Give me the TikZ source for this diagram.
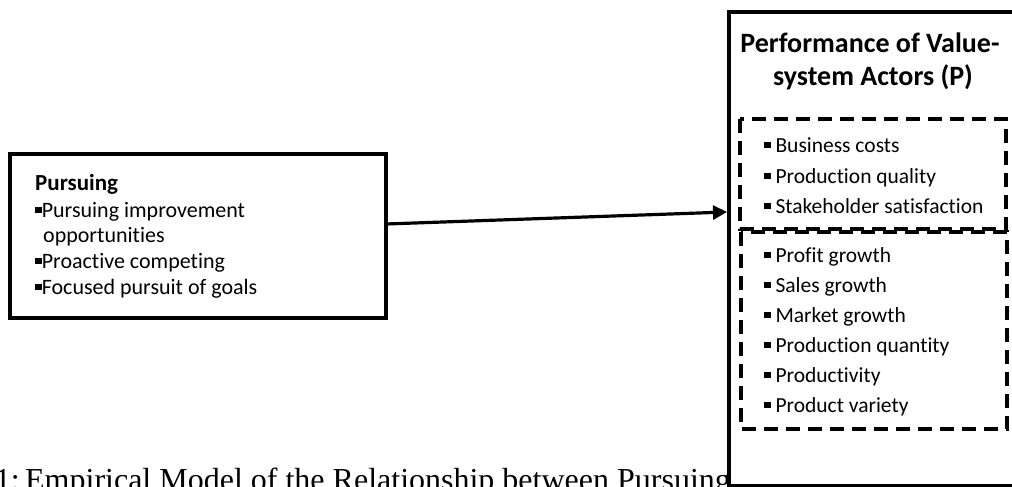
\documentclass[tikz,border=0pt]{standalone}
\usepackage{fontspec}
\setmainfont{Carlito}[Ligatures={NoCommon}]
\newfontfamily\capfont{Liberation Serif}
\usetikzlibrary{arrows.meta}
\newcommand{\sqb}{\rule[0.17em]{0.3em}{0.3em}}
\tikzset{
  solidbox/.style={draw=black, line width=3.2pt, fill=white},
  dashbox/.style={draw=black, line width=3.2pt, dash pattern=on 14pt off 8pt},
  itemtxt/.style={anchor=base west, inner sep=0pt, font=\fontsize{21.5}{25}\selectfont},
  litemtxt/.style={anchor=base west, inner sep=0pt, font=\fontsize{22}{25}\selectfont},
  headtxt/.style={anchor=base west, inner sep=0pt, font=\fontsize{23}{26}\selectfont\bfseries},
  titletxt/.style={anchor=base, inner sep=0pt, font=\fontsize{28}{30}\selectfont\bfseries},
  captxt/.style={anchor=base west, inner sep=0pt, font=\fontsize{32}{36}\selectfont\capfont},
  conn/.style={line width=3.2pt, -{Triangle[length=14pt,width=14pt]}}
}
\begin{document}
\begin{tikzpicture}[x=1pt,y=-1pt]
\useasboundingbox (0,0) rectangle (1012,487);
\clip (0,0) rectangle (1012,487);
% caption (partly hidden behind the right box and the bottom edge)
\node[captxt] (cap) at (25,490) {\llap{1:\,}Empirical Model of the Relationship between Pursuing};
% left box
\draw[solidbox] (10,154) rectangle (386,318);
\coordinate (lout) at (386,224);
\node[headtxt] (lh) at (35,190) {Pursuing};
\node[litemtxt] (l1) at (35,217) {\sqb Pursuing improvement};
\node[litemtxt] (l1b) at (43,242) {opportunities};
\node[litemtxt] (l2) at (35,268) {\sqb Proactive competing};
\node[litemtxt] (l3) at (35,294) {\sqb Focused pursuit of goals};
% right box
\draw[solidbox] (729,12) rectangle (1030,486);
\coordinate (rin) at (727,212);
\node[titletxt] (t1) at (870,53) {Performance of Value-};
\node[titletxt] (t2) at (873,85) {system Actors (P)};
\draw[dashbox] (740,119) rectangle (1006,229);
\draw[dashbox] (741,232) rectangle (1007,429);
\node[itemtxt] (r1) at (764,152) {\sqb\ Business costs};
\node[itemtxt] (r2) at (764,183) {\sqb\ Production quality};
\node[itemtxt] (r3) at (764,213) {\sqb\ Stakeholder satisfaction};
\node[itemtxt] (r4) at (764,262) {\sqb\ Profit growth};
\node[itemtxt] (r5) at (764,292) {\sqb\ Sales growth};
\node[itemtxt] (r6) at (764,322) {\sqb\ Market growth};
\node[itemtxt] (r7) at (764,352) {\sqb\ Production quantity};
\node[itemtxt] (r8) at (764,382) {\sqb\ Productivity};
\node[itemtxt] (r9) at (764,412) {\sqb\ Product variety};
% connector
\draw[conn] (lout) -- (rin);
\end{tikzpicture}
\end{document}
